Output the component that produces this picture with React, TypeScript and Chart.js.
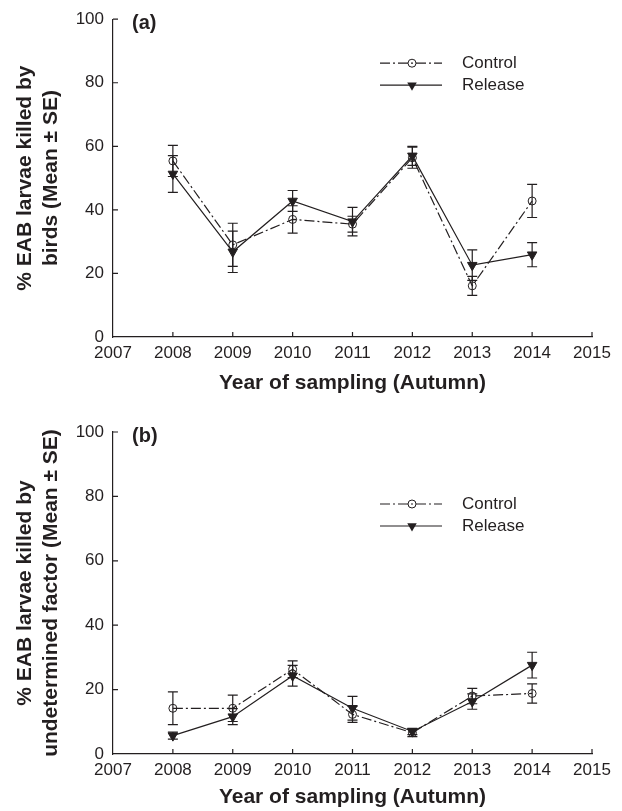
import React, { useEffect, useRef } from 'react';
import { Chart, registerables } from 'chart.js';

Chart.register(...registerables);

// ---------- data ----------
const years = [2008, 2009, 2010, 2011, 2012, 2013, 2014];
const xTicks = [2007, 2008, 2009, 2010, 2011, 2012, 2013, 2014, 2015];
const yTicks = [0, 20, 40, 60, 80, 100];
const seriesNames = ['Control', 'Release'];

const birdsControl = [55.4, 29.0, 37.0, 35.5, 56.4, 16.1, 42.8];
const birdsControlSE = [4.9, 6.8, 4.3, 2.5, 3.3, 3.0, 5.2];
const birdsRelease = [51.3, 26.8, 42.8, 36.3, 57.0, 22.6, 25.9];
const birdsReleaseSE = [5.8, 6.5, 3.3, 4.5, 3.0, 4.8, 3.8];

const undetControl = [14.2, 14.2, 26.3, 12.3, 6.6, 18.0, 18.8];
const undetControlSE = [5.1, 4.1, 2.6, 2.5, 1.2, 2.4, 3.0];
const undetRelease = [5.7, 11.6, 24.3, 14.2, 7.0, 16.3, 27.6];
const undetReleaseSE = [1.1, 2.5, 3.2, 3.7, 1.0, 2.4, 4.0];

const INK = '#231f20';
const FONT = '"Liberation Sans", Arial, Helvetica, sans-serif';
const CONTROL_DASH = [10, 3, 2, 3];

type PanelProps = {
  height: number;
  top: number;
  plotTop: number;
  plotBottom: number;
  titleBottomPad: number;
  panelLabel: string;
  yTitle: string[];
  control: number[];
  controlSE: number[];
  release: number[];
  releaseSE: number[];
  legendTop: number;
};

const errorAndDecorPlugin = {
  id: 'errorAndDecor',
  beforeDatasetsDraw(chart: any) {
    const ctx = chart.ctx;
    const xs = chart.scales.x;
    const ys = chart.scales.y;
    const se: number[][] = chart.options.plugins.errorAndDecor.se;
    ctx.save();
    ctx.strokeStyle = INK;
    ctx.lineWidth = 1.2;
    chart.data.datasets.forEach((ds: any, i: number) => {
      ds.data.forEach((pt: any, j: number) => {
        const e = se[i][j];
        const x = xs.getPixelForValue(pt.x);
        const y1 = ys.getPixelForValue(pt.y + e);
        const y2 = ys.getPixelForValue(pt.y - e);
        ctx.beginPath();
        ctx.moveTo(x, y1);
        ctx.lineTo(x, y2);
        ctx.moveTo(x - 5, y1);
        ctx.lineTo(x + 5, y1);
        ctx.moveTo(x - 5, y2);
        ctx.lineTo(x + 5, y2);
        ctx.stroke();
      });
    });
    ctx.restore();
  },
  afterDraw(chart: any) {
    const ctx = chart.ctx;
    const xs = chart.scales.x;
    const ys = chart.scales.y;
    const area = chart.chartArea;
    const opts = chart.options.plugins.errorAndDecor;
    ctx.save();
    ctx.strokeStyle = INK;
    ctx.lineWidth = 1.2;
    // inward ticks
    ctx.beginPath();
    xTicks.forEach((v) => {
      if (v === xTicks[0]) return;
      const x = xs.getPixelForValue(v);
      ctx.moveTo(x, area.bottom);
      ctx.lineTo(x, area.bottom - 5);
    });
    yTicks.forEach((v) => {
      if (v === yTicks[0]) return;
      const y = ys.getPixelForValue(v);
      ctx.moveTo(area.left, y);
      ctx.lineTo(area.left + 5, y);
    });
    ctx.stroke();

    // panel label
    ctx.fillStyle = INK;
    ctx.font = `bold 20px ${FONT}`;
    ctx.textAlign = 'left';
    ctx.textBaseline = 'middle';
    ctx.fillText(opts.panelLabel, area.left + 19, area.top + 4);

    // legend
    const lx0 = area.left + 267;
    const lx1 = area.left + 329;
    const mx = area.left + 299;
    const tx = area.left + 349;
    seriesNames.forEach((name, i) => {
      const y = area.top + opts.legendTop + i * 22;
      ctx.beginPath();
      ctx.setLineDash(i === 0 ? CONTROL_DASH : []);
      ctx.moveTo(lx0, y);
      ctx.lineTo(lx1, y);
      ctx.stroke();
      ctx.setLineDash([]);
      ctx.beginPath();
      if (i === 0) {
        ctx.lineWidth = 1;
        ctx.arc(mx, y, 4, 0, Math.PI * 2);
        ctx.stroke();
        ctx.lineWidth = 1.2;
      } else {
        const r = 5.5;
        ctx.moveTo(mx, y + r);
        ctx.lineTo(mx - r * 0.866, y - r / 2);
        ctx.lineTo(mx + r * 0.866, y - r / 2);
        ctx.closePath();
        ctx.fill();
      }
      ctx.font = `17px ${FONT}`;
      ctx.fillText(name, tx, y);
    });
    ctx.restore();
  },
};

function Panel(p: PanelProps) {
  const ref = useRef<HTMLCanvasElement | null>(null);
  useEffect(() => {
    if (!ref.current) return;
    const chart = new Chart(ref.current, {
      type: 'line',
      data: {
        datasets: [
          {
            label: seriesNames[0],
            data: years.map((x, i) => ({ x, y: p.control[i] })),
            borderColor: INK,
            borderWidth: 1.2,
            borderDash: CONTROL_DASH,
            pointStyle: 'circle',
            pointRadius: 4,
            pointBorderWidth: 1,
            pointBorderColor: INK,
            pointBackgroundColor: 'rgba(0,0,0,0)',
            tension: 0,
            order: 1,
          },
          {
            label: seriesNames[1],
            data: years.map((x, i) => ({ x, y: p.release[i] })),
            borderColor: INK,
            borderWidth: 1.2,
            pointStyle: 'triangle',
            pointRotation: 180,
            pointRadius: 5.5,
            pointBorderWidth: 1,
            pointBorderColor: INK,
            pointBackgroundColor: INK,
            tension: 0,
            order: 0,
          },
        ],
      },
      options: {
        animation: false,
        responsive: false,
        maintainAspectRatio: false,
        devicePixelRatio: 1,
        layout: { padding: { top: p.plotTop, right: 30, left: 0, bottom: 0 } },
        plugins: {
          legend: { display: false },
          tooltip: { enabled: false },
          // @ts-ignore
          errorAndDecor: {
            se: [p.controlSE, p.releaseSE],
            panelLabel: p.panelLabel,
            legendTop: p.legendTop,
          },
        },
        scales: {
          x: {
            type: 'linear',
            min: xTicks[0],
            max: xTicks[xTicks.length - 1],
            afterBuildTicks: (s: any) => {
              s.ticks = xTicks.map((v) => ({ value: v }));
            },
            afterFit: (s: any) => {
              s.height = p.height - p.plotBottom;
            },
            grid: { display: false, drawTicks: false },
            border: { display: true, color: INK, width: 1.2 },
            ticks: {
              color: INK,
              font: { family: FONT, size: 17 },
              padding: 6,
              maxRotation: 0,
              autoSkip: false,
              callback: (v: any) => String(v),
            },
            title: {
              display: true,
              text: 'Year of sampling (Autumn)',
              color: INK,
              font: { family: FONT, size: 21, weight: 'bold', lineHeight: 1.2 },
              padding: { top: 0, bottom: p.titleBottomPad },
            },
          },
          y: {
            type: 'linear',
            min: yTicks[0],
            max: yTicks[yTicks.length - 1],
            afterBuildTicks: (s: any) => {
              s.ticks = yTicks.map((v) => ({ value: v }));
            },
            afterFit: (s: any) => {
              s.width = 113;
            },
            grid: { display: false, drawTicks: false },
            border: { display: true, color: INK, width: 1.2 },
            ticks: {
              color: INK,
              font: { family: FONT, size: 17 },
              padding: 9,
              callback: (v: any) => String(v),
            },
            title: {
              display: true,
              text: p.yTitle,
              color: INK,
              font: { family: FONT, size: 21, weight: 'bold', lineHeight: 1.25 },
              padding: { top: 12, bottom: 0 },
            },
          },
        },
      },
      plugins: [errorAndDecorPlugin as any],
    } as any);
    return () => chart.destroy();
  }, []);
  return (
    <canvas
      ref={ref}
      width={622}
      height={p.height}
      style={{ position: 'absolute', left: 0, top: p.top, width: 622, height: p.height }}
    />
  );
}

export default function App() {
  return (
    <div style={{ position: 'absolute', left: 0, top: 0, width: 622, height: 811, background: '#fff' }}>
      <Panel
        height={400}
        top={0}
        plotTop={15}
        plotBottom={337}
        titleBottomPad={4}
        panelLabel="(a)"
        yTitle={['% EAB larvae killed by', 'birds (Mean ± SE)']}
        control={birdsControl}
        controlSE={birdsControlSE}
        release={birdsRelease}
        releaseSE={birdsReleaseSE}
        legendTop={44}
      />
      <Panel
        height={411}
        top={400}
        plotTop={32}
        plotBottom={354}
        titleBottomPad={1}
        panelLabel="(b)"
        yTitle={['% EAB larvae killed by', 'undetermined factor (Mean ± SE)']}
        control={undetControl}
        controlSE={undetControlSE}
        release={undetRelease}
        releaseSE={undetReleaseSE}
        legendTop={72}
      />
    </div>
  );
}
